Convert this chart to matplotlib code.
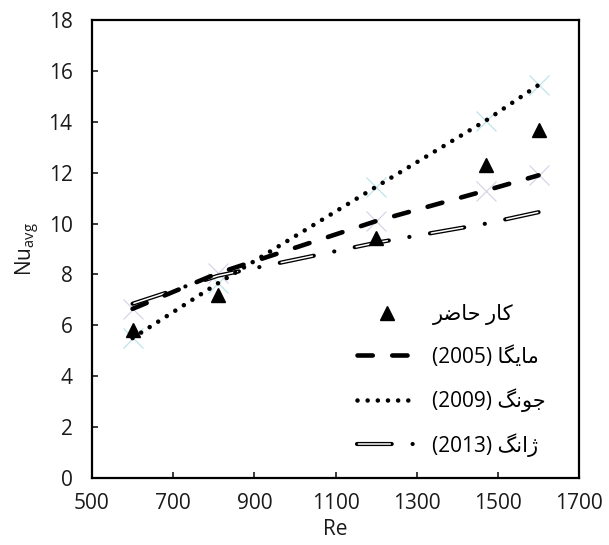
import matplotlib
matplotlib.use('Agg')
import matplotlib.pyplot as plt

plt.rcParams['font.family'] = ['Open Sans', 'DejaVu Sans']
plt.rcParams['mathtext.fontset'] = 'custom'
plt.rcParams['mathtext.rm'] = 'Open Sans'
plt.rcParams['lines.scale_dashes'] = False

# data
re_vals = [600, 810, 1200, 1470, 1600]
nu_present = [5.8, 7.2, 9.45, 12.3, 13.7]
nu_maiga = [6.65, 8.05, 10.1, 11.3, 11.9]
nu_jung = [5.5, 7.65, 11.45, 14.05, 15.45]
nu_zhang = [6.85, 7.95, 9.25, 10.0, 10.45]

# labels (Persian, written in visual order with presentation forms)
lbl_present = '\uFEAE\uFEBF\uFE8E\uFEA3 \uFEAD\uFE8E\uFB90'   # کار حاضر
lbl_maiga = '(2005) \uFE8E\uFB95\uFBFE\uFE8E\uFEE3'            # مایگا
lbl_jung = '(2009) \uFB93\uFEE7\uFEEE\uFE9F'                   # جونگ
lbl_zhang = '(2013) \uFB93\uFEE7\uFE8D\uFB8A'                  # ژانگ

xticks = [500, 700, 900, 1100, 1300, 1500, 1700]
yticks = [0, 2, 4, 6, 8, 10, 12, 14, 16, 18]

fig = plt.figure(figsize=(6.09, 5.45), dpi=100)
ax = fig.add_axes([0.151, 0.123, 0.80, 0.840])

# faint cross markers under the lines
ax.plot(re_vals, nu_jung, ls='none', marker='x', ms=14, mew=0.8, color='#b8e2ea', zorder=1)
ax.plot(re_vals, nu_maiga, ls='none', marker='x', ms=14, mew=0.8, color='#d6cfe8', zorder=1)

# zhang: double line, dash-dot
z_black, = ax.plot(re_vals, nu_zhang, color='black', lw=3.0, linestyle=(0, (25, 15, 0.1, 15)),
                   dash_capstyle='round', zorder=2)
z_white, = ax.plot(re_vals, nu_zhang, color='white', lw=1.1, linestyle=(54.1, (23, 32.1)),
                   dash_capstyle='round', zorder=3)

# maiga: long dashes
m_line, = ax.plot(re_vals, nu_maiga, color='black', lw=3.3, linestyle=(0, (11, 14)),
                  dash_capstyle='round', zorder=4)

# jung: round dots
j_line, = ax.plot(re_vals, nu_jung, color='black', lw=3.3, linestyle=(0, (0.01, 7.3)),
                  dash_capstyle='round', zorder=5)

# present work
p_pts, = ax.plot(re_vals, nu_present, ls='none', marker='^', ms=10, color='black', zorder=6)

ax.set_xlim(500, 1700)
ax.set_ylim(0, 18)
ax.set_xticks(xticks)
ax.set_yticks(yticks)
ax.tick_params(direction='in', length=4, width=1.2, labelsize=15, colors='#1a1a1a')
ax.tick_params(axis='x', pad=11)
ax.tick_params(axis='y', pad=14)
for s in ax.spines.values():
    s.set_linewidth(1.6)
    s.set_color('black')

ax.set_xlabel('Re', fontsize=15, color='#1a1a1a')
ax.xaxis.set_label_coords(0.5, -0.09)
ax.set_ylabel(r'$\mathrm{Nu_{avg}}$', fontsize=15, labelpad=5, color='#1a1a1a')

leg = ax.legend([p_pts, m_line, j_line, (z_black, z_white)],
                [lbl_present, lbl_maiga, lbl_jung, lbl_zhang],
                loc='upper left', bbox_to_anchor=(0.545, 0.38), borderaxespad=0,
                borderpad=0, frameon=False, fontsize=15, handlelength=2.85,
                handletextpad=0.75, labelspacing=1.0)

fig.savefig('out.png', dpi=100)
